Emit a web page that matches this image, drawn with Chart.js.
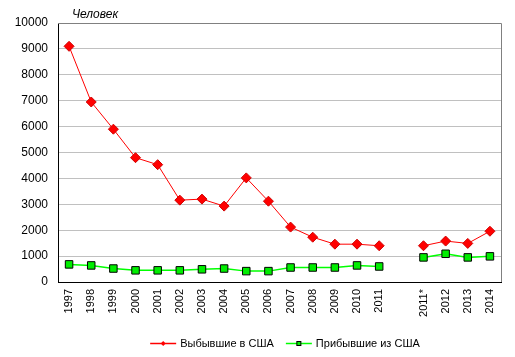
<!DOCTYPE html>
<html>
<head>
<meta charset="utf-8">
<script src="https://cdn.jsdelivr.net/npm/chart.js@4/dist/chart.umd.min.js"></script>
<style>
html,body{margin:0;padding:0;background:#fff;}
#wrap{width:515px;height:357px;}
</style>
</head>
<body>
<div id="wrap"><canvas id="c" width="515" height="357"></canvas></div>
<script>
const categories = ["1997","1998","1999","2000","2001","2002","2003","2004","2005","2006","2007","2008","2009","2010","2011","","2011*","2012","2013","2014"];
const departed = [9100,6950,5900,4800,4530,3160,3200,2930,4020,3120,2120,1730,1460,1460,1400,null,1400,1580,1490,1960];
const arrived = [680,640,520,450,450,450,490,520,420,420,560,560,560,640,600,null,950,1090,950,990];
const seriesNames = ["Выбывшие в США","Прибывшие из США"];
const yTicks = [0,1000,2000,3000,4000,5000,6000,7000,8000,9000,10000];
const unitLabel = "Человек";

const FONT = "'Liberation Sans', Arial, sans-serif";

const framePlugin = {
  id:'frame',
  beforeDatasetsDraw(chart){
    const a = chart.chartArea, ctx = chart.ctx;
    ctx.save();
    ctx.strokeStyle = '#808080'; ctx.lineWidth = 1;
    ctx.beginPath();
    ctx.moveTo(a.left, a.top+0.5); ctx.lineTo(a.right+0.5, a.top+0.5); ctx.lineTo(a.right+0.5, a.bottom);
    ctx.stroke();
    ctx.restore();
  },
  afterDraw(chart){
    const a = chart.chartArea, ctx = chart.ctx;
    ctx.save();
    ctx.fillStyle = '#000';
    ctx.font = "italic 12px " + FONT;
    ctx.textBaseline = 'alphabetic';
    ctx.fillText(unitLabel, a.left + 14, a.top - 5);

    // legend (Excel style: line with marker)
    ctx.font = "11px " + FONT;
    ctx.textBaseline = 'middle';
    const ds = chart.data.datasets;
    const lineW = 26, gapText = 4, gapItem = 12;
    const widths = ds.map(d => lineW + gapText + ctx.measureText(d.label).width);
    const total = widths.reduce((s,w)=>s+w,0) + gapItem*(ds.length-1);
    let x = 285 - total/2;
    const y = 343;
    ds.forEach((d,i)=>{
      ctx.strokeStyle = d.borderColor; ctx.lineWidth = 1.5;
      ctx.beginPath(); ctx.moveTo(x, y+0.5); ctx.lineTo(x+lineW, y+0.5); ctx.stroke();
      const cx = x + lineW/2;
      ctx.lineWidth = 1;
      if (d.pointStyle === 'rectRot'){
        ctx.fillStyle = d.pointBackgroundColor;
        ctx.beginPath(); ctx.moveTo(cx, y-2); ctx.lineTo(cx+2.5, y+0.5); ctx.lineTo(cx, y+3); ctx.lineTo(cx-2.5, y+0.5); ctx.closePath(); ctx.fill();
      } else {
        ctx.fillStyle = d.pointBackgroundColor; ctx.strokeStyle = d.pointBorderColor;
        ctx.fillRect(cx-2, y-1.5, 4, 4); ctx.strokeRect(cx-2, y-1.5, 4, 4);
      }
      ctx.fillStyle = '#000';
      ctx.fillText(d.label, x + lineW + gapText, y + 0.5);
      x += widths[i] + gapItem;
    });
    ctx.restore();
  }
};

new Chart(document.getElementById('c'), {
  type:'line',
  data:{
    labels: categories,
    datasets:[
      {label: seriesNames[0], data: departed, borderColor:'#ff0000', backgroundColor:'#ff0000', borderWidth:1,
       pointStyle:'rectRot', pointRadius:5, pointBorderColor:'#d00000', pointBackgroundColor:'#ff0000', pointBorderWidth:1, spanGaps:false, tension:0},
      {label: seriesNames[1], data: arrived, borderColor:'#00ff00', backgroundColor:'#00ff00', borderWidth:1.5,
       pointStyle:'rect', pointRadius:5.3, pointBorderColor:'#000000', pointBackgroundColor:'#00ee00', pointBorderWidth:1, spanGaps:false, tension:0}
    ]
  },
  options:{
    responsive:false, animation:false,
    layout:{padding:{top:23,right:14,left:0,bottom:33}},
    plugins:{
      tooltip:{enabled:false},
      legend:{display:false}
    },
    scales:{
      x:{
        offset:true,
        grid:{display:false, drawTicks:false},
        border:{display:true, color:'#000', width:1},
        ticks:{color:'#000', font:{family:FONT,size:11}, minRotation:90, maxRotation:90, autoSkip:false, padding:7},
        afterFit(s){ s.height = 42; }
      },
      y:{
        min:0, max:10000,
        afterBuildTicks(s){ s.ticks = yTicks.map(v=>({value:v})); },
        grid:{color:'#c0c0c0', drawTicks:false, lineWidth:1},
        border:{display:true, color:'#000', width:1},
        ticks:{color:'#000', font:{family:FONT,size:12}, padding:10, callback:v=>String(v)},
        afterFit(s){ s.width = 58; }
      }
    }
  },
  plugins:[framePlugin]
});
</script>
</body>
</html>
